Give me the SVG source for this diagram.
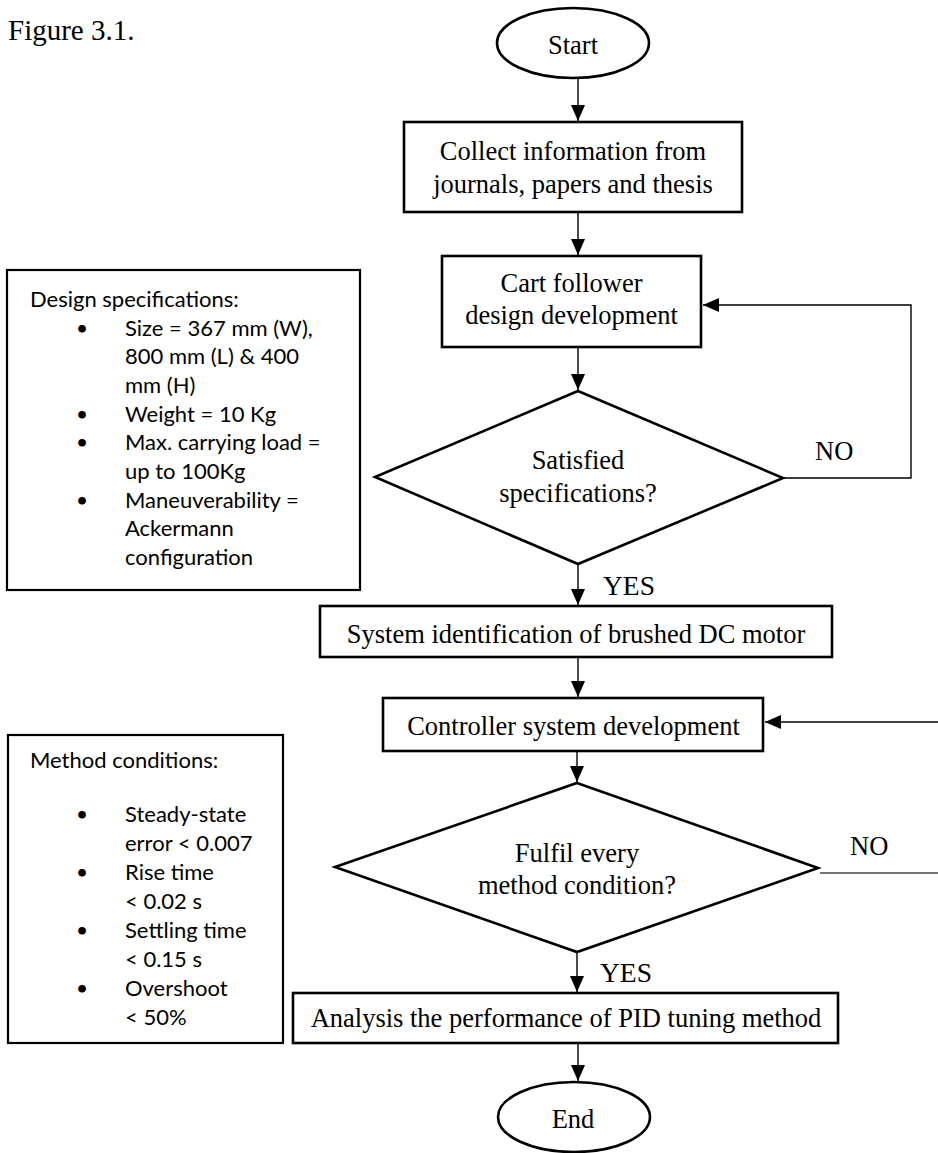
<svg xmlns="http://www.w3.org/2000/svg" width="938" height="1153" viewBox="0 0 938 1153">
<defs>
<marker id="ah" markerWidth="16" markerHeight="14" refX="16" refY="7" orient="auto" markerUnits="userSpaceOnUse"><path d="M0,0 L16,7 L0,14 Z" fill="#000"/></marker>
<style>
.shape{fill:#fff;stroke:#000;stroke-width:2.6}
.note{fill:#fff;stroke:#000;stroke-width:2.2}
.conn{fill:none;stroke:#000;stroke-width:1.4}
.grey{stroke:#444;stroke-width:1.6}
.t{font-family:"Liberation Serif","Times New Roman",serif;font-size:26.5px;fill:#000;text-anchor:middle}
.lbl{font-family:"Liberation Serif","Times New Roman",serif;font-size:26.5px;fill:#000}
.n{font-family:Lato,"Open Sans",sans-serif;font-size:22px;fill:#000}
.b{font-family:"DejaVu Sans",sans-serif;font-size:22px;font-weight:bold;fill:#000;text-anchor:middle}
</style>
</defs>
<rect width="938" height="1153" fill="#fff"/>
<text x="8" y="40" class="lbl" style="font-size:29px">Figure 3.1.</text>

<g id="connectors">
<line class="conn" x1="578" y1="78" x2="578" y2="121" marker-end="url(#ah)"/>
<line class="conn" x1="578" y1="212" x2="578" y2="255" marker-end="url(#ah)"/>
<line class="conn" x1="578" y1="347" x2="578" y2="390" marker-end="url(#ah)"/>
<polyline class="conn" points="783,478 911,478 911,305 703,305" marker-end="url(#ah)"/>
<line class="conn" x1="578" y1="564" x2="578" y2="605" marker-end="url(#ah)"/>
<line class="conn" x1="578" y1="657" x2="578" y2="697" marker-end="url(#ah)"/>
<line class="conn" x1="938" y1="722" x2="765" y2="722" marker-end="url(#ah)"/>
<line class="conn" x1="577" y1="751" x2="577" y2="782" marker-end="url(#ah)"/>
<line class="conn grey" x1="820" y1="873" x2="938" y2="873"/>
<line class="conn" x1="577" y1="952" x2="577" y2="992" marker-end="url(#ah)"/>
<line class="conn" x1="578" y1="1043" x2="578" y2="1081" marker-end="url(#ah)"/>
<text x="815" y="460" class="lbl">NO</text>
<text x="603" y="595" class="lbl" style="font-size:27.5px">YES</text>
<text x="850" y="855" class="lbl">NO</text>
<text x="600" y="982" class="lbl" style="font-size:27.5px">YES</text>
</g>

<g id="start">
<ellipse class="shape" cx="573" cy="43" rx="76" ry="35"/>
<text x="573" y="54" class="t">Start</text>
</g>

<g id="collect">
<rect class="shape" x="404" y="122" width="338" height="90"/>
<text x="573" y="160" class="t">Collect information from</text>
<text x="573" y="193" class="t">journals, papers and thesis</text>
</g>

<g id="cart">
<rect class="shape" x="442" y="256" width="259" height="91"/>
<text x="571.5" y="292" class="t">Cart follower</text>
<text x="571.5" y="324" class="t">design development</text>
</g>

<g id="decision1">
<polygon class="shape" points="578,391 783,478 578,564 375,477"/>
<text x="578" y="469" class="t">Satisfied</text>
<text x="578" y="502" class="t">specifications?</text>
</g>

<g id="sysid">
<rect class="shape" x="320" y="606" width="512" height="51"/>
<text x="576" y="643" class="t">System identification of brushed DC motor</text>
</g>

<g id="controller">
<rect class="shape" x="383" y="698" width="380" height="53"/>
<text x="573.5" y="735" class="t">Controller system development</text>
</g>

<g id="decision2">
<polygon class="shape" points="577,783 818,868 577,952 335,867"/>
<text x="577" y="862" class="t">Fulfil every</text>
<text x="577" y="894" class="t">method condition?</text>
</g>

<g id="analysis">
<rect class="shape" x="293" y="993" width="545" height="50"/>
<text x="566" y="1027" class="t">Analysis the performance of PID tuning method</text>
</g>

<g id="end">
<ellipse class="shape" cx="574" cy="1117" rx="76" ry="35"/>
<text x="573" y="1128" class="t">End</text>
</g>

<g id="design-specs">
<rect class="note" x="7" y="270" width="353" height="320"/>
<text x="30" y="307" class="n">Design specifications:</text>
<text x="82" y="337" class="b">•</text>
<text x="125" y="336" class="n">Size = 367 mm (W),</text>
<text x="125" y="364" class="n">800 mm (L) &amp; 400</text>
<text x="125" y="393" class="n">mm (H)</text>
<text x="82" y="423" class="b">•</text>
<text x="125" y="422" class="n">Weight = 10 Kg</text>
<text x="82" y="451" class="b">•</text>
<text x="125" y="450" class="n">Max. carrying load =</text>
<text x="125" y="479" class="n">up to 100Kg</text>
<text x="82" y="509" class="b">•</text>
<text x="125" y="508" class="n">Maneuverability =</text>
<text x="125" y="536" class="n">Ackermann</text>
<text x="125" y="565" class="n">configuration</text>
</g>

<g id="method-conditions">
<rect class="note" x="8" y="735" width="275" height="308"/>
<text x="30" y="768" class="n">Method conditions:</text>
<text x="82" y="823" class="b">•</text>
<text x="125" y="822" class="n">Steady-state</text>
<text x="125" y="851" class="n">error &lt; 0.007</text>
<text x="82" y="881" class="b">•</text>
<text x="125" y="880" class="n">Rise time</text>
<text x="125" y="909" class="n">&lt; 0.02 s</text>
<text x="82" y="939" class="b">•</text>
<text x="125" y="938" class="n">Settling time</text>
<text x="125" y="967" class="n">&lt; 0.15 s</text>
<text x="82" y="997" class="b">•</text>
<text x="125" y="996" class="n">Overshoot</text>
<text x="125" y="1025" class="n">&lt; 50%</text>
</g>
</svg>
